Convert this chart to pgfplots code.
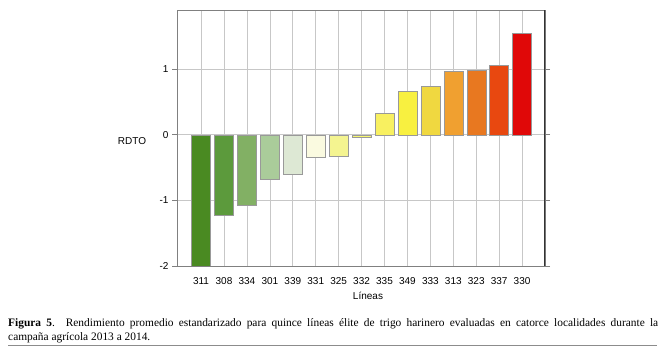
\documentclass[border=0pt]{standalone}
\usepackage{fontspec}
\setmainfont{Liberation Sans}
\newfontfamily\capfont{Liberation Serif}
\usepackage{pgfplots}
\pgfplotsset{compat=1.18}
\definecolor{c1}{HTML}{4A8A22}
\definecolor{c2}{HTML}{5C9A3C}
\definecolor{c3}{HTML}{82B064}
\definecolor{c4}{HTML}{AACC9A}
\definecolor{c5}{HTML}{DDE8D4}
\definecolor{c6}{HTML}{FAFAE0}
\definecolor{c7}{HTML}{F4F490}
\definecolor{c8}{HTML}{F8F870}
\definecolor{c9}{HTML}{F8F060}
\definecolor{c10}{HTML}{F8F040}
\definecolor{c11}{HTML}{F0D840}
\definecolor{c12}{HTML}{F0A030}
\definecolor{c13}{HTML}{E87820}
\definecolor{c14}{HTML}{E84810}
\definecolor{c15}{HTML}{E00808}
\begin{document}
\begin{tikzpicture}
\useasboundingbox (0,0) rectangle (668pt,352pt);
\begin{axis}[
  at={(177pt,86pt)}, anchor=south west,
  scale only axis, width=368pt, height=256pt,
  xmin=-1.05, xmax=15.0, ymin=-2, ymax=1.9,
  ybar, bar width=19pt, bar shift=0pt,
  xtick={0,...,14},
  xticklabels={311,308,334,301,339,331,325,332,335,349,333,313,323,337,330},
  ytick={-2,-1,0,1},
  yticklabels={-2,-1,0,1},
  /pgf/number format/assume math mode=true,
  xmajorgrids, ymajorgrids,
  major grid style={draw=black!22, line width=0.6pt},
  axis line style={draw=black!50, line width=0.7pt},
  x tick style={draw=none},
  y tick style={draw=black!50, line width=0.7pt},
  tick align=outside, major tick length=5pt,
  tick label style={font=\fontsize{10}{12}\selectfont},
  xticklabel style={yshift=-3pt},
  clip=true,
]
\addplot[fill=c1, draw=black!40] coordinates {(0,-2.0)};
\addplot[fill=c2, draw=black!40] coordinates {(1,-1.22)};
\addplot[fill=c3, draw=black!40] coordinates {(2,-1.07)};
\addplot[fill=c4, draw=black!40] coordinates {(3,-0.68)};
\addplot[fill=c5, draw=black!40] coordinates {(4,-0.60)};
\addplot[fill=c6, draw=black!40] coordinates {(5,-0.34)};
\addplot[fill=c7, draw=black!40] coordinates {(6,-0.33)};
\addplot[fill=c8, draw=black!40] coordinates {(7,-0.04)};
\addplot[fill=c9, draw=black!40] coordinates {(8,0.33)};
\addplot[fill=c10, draw=black!40] coordinates {(9,0.66)};
\addplot[fill=c11, draw=black!40] coordinates {(10,0.74)};
\addplot[fill=c12, draw=black!40] coordinates {(11,0.97)};
\addplot[fill=c13, draw=black!40] coordinates {(12,0.99)};
\addplot[fill=c14, draw=black!40] coordinates {(13,1.06)};
\addplot[fill=c15, draw=black!40] coordinates {(14,1.54)};
\draw[black!80, line width=2.2pt] (rel axis cs:1,0) -- (rel axis cs:1,1);
\end{axis}
\node[font=\fontsize{10}{12}\selectfont] at (132pt,211pt) {RDTO};
\node[font=\fontsize{10}{12}\selectfont] at (368pt,56pt) {Líneas};
\node[anchor=base west, inner sep=0pt, text width=650pt, align=justify,
      font=\capfont\fontsize{11.4}{14}\selectfont] at (8pt,25.3pt)
  {\textbf{Figura 5}. Rendimiento promedio estandarizado para quince líneas élite de trigo harinero evaluadas en catorce localidades durante la\linebreak campaña agrícola 2013 a 2014.};
\draw[black!45, line width=0.8pt] (8pt,7pt) -- (657pt,7pt);
\end{tikzpicture}
\end{document}
